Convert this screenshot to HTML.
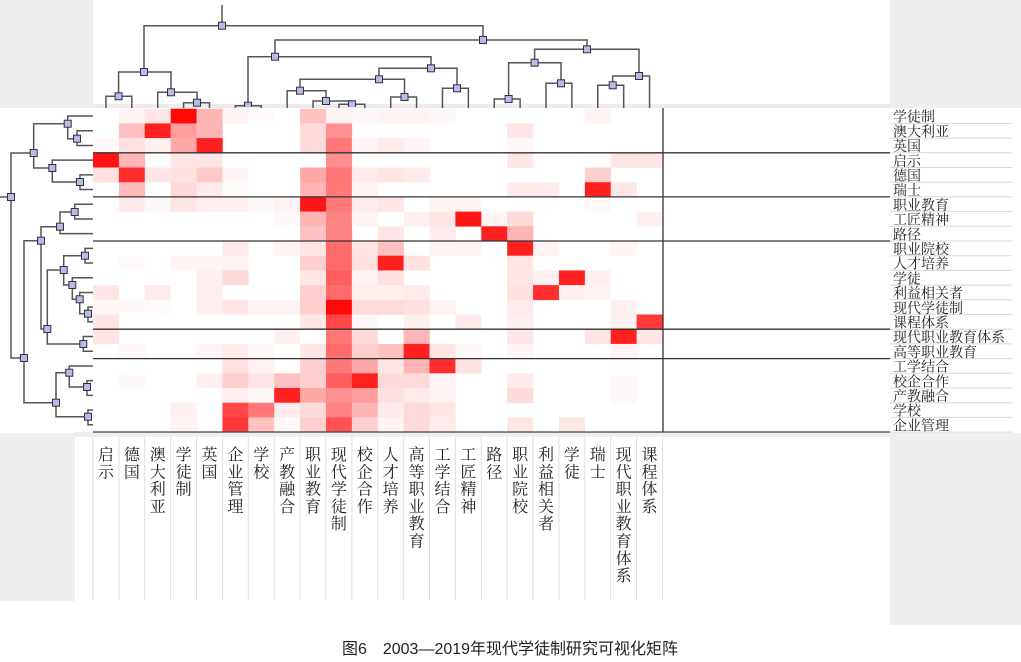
<!DOCTYPE html>
<html><head><meta charset="utf-8">
<style>
body{margin:0;width:1021px;height:662px;overflow:hidden;background:#fff;font-family:"Liberation Serif","Noto Serif CJK SC",serif;}
svg{position:absolute;left:0;top:0}
</style></head>
<body>
<svg id="chart" width="1021" height="662" xmlns="http://www.w3.org/2000/svg"></svg>
<script>
const colLabels=["启示","德国","澳大利亚","学徒制","英国","企业管理","学校","产教融合","职业教育","现代学徒制","校企合作","人才培养","高等职业教育","工学结合","工匠精神","路径","职业院校","利益相关者","学徒","瑞士","现代职业教育体系","课程体系"];
const rowLabels=["学徒制","澳大利亚","英国","启示","德国","瑞士","职业教育","工匠精神","路径","职业院校","人才培养","学徒","利益相关者","现代学徒制","课程体系","现代职业教育体系","高等职业教育","工学结合","校企合作","产教融合","学校","企业管理"];
// sparse cell intensities per row: [col, value]
const row0=[[1,.05],[2,.1],[3,1],[4,.3],[5,.05],[6,.02],[8,.25],[9,.05],[10,.03],[11,.05],[12,.05],[13,.03],[19,.05]];
const row1=[[1,.25],[2,.9],[3,.4],[4,.3],[8,.15],[9,.45],[16,.1]];
const row2=[[0,.03],[1,.12],[2,.06],[3,.35],[4,.9],[8,.15],[9,.55],[10,.05],[11,.08],[12,.05],[16,.03]];
const row3=[[0,.95],[1,.3],[3,.1],[4,.1],[9,.45],[16,.1],[20,.1],[21,.1]];
const row4=[[0,.12],[1,.85],[2,.1],[3,.12],[4,.22],[5,.04],[8,.35],[9,.55],[10,.08],[11,.1],[12,.08],[19,.2]];
const row5=[[1,.28],[3,.15],[4,.08],[5,.02],[8,.3],[9,.55],[10,.05],[16,.08],[17,.08],[19,.9],[20,.1]];
const row6=[[1,.08],[2,.03],[3,.1],[4,.06],[5,.06],[6,.03],[7,.05],[8,.95],[9,.55],[10,.08],[11,.1],[13,.05],[14,.05],[19,.03]];
const row7=[[7,.03],[8,.3],[9,.5],[10,.05],[12,.06],[13,.1],[14,.95],[15,.05],[16,.15],[21,.06]];
const row8=[[8,.25],[9,.5],[11,.1],[13,.08],[15,.9],[16,.3]];
const row9=[[5,.08],[7,.05],[8,.1],[9,.6],[10,.1],[11,.25],[13,.05],[14,.05],[16,.9],[17,.05],[20,.04]];
const row10=[[1,.02],[3,.04],[4,.04],[5,.05],[8,.2],[9,.6],[10,.12],[11,.9],[12,.12],[16,.1]];
const row11=[[4,.06],[5,.15],[8,.1],[9,.65],[10,.05],[11,.12],[16,.1],[17,.06],[18,.9],[19,.06]];
const row12=[[0,.1],[2,.08],[4,.06],[8,.2],[9,.6],[10,.06],[11,.06],[12,.08],[16,.12],[17,.85],[18,.06],[19,.04]];
const row13=[[0,.03],[1,.03],[2,.02],[4,.06],[5,.1],[6,.05],[7,.05],[8,.2],[9,1],[10,.15],[11,.15],[12,.12],[13,.05],[16,.08],[20,.06]];
const row14=[[0,.1],[8,.1],[9,.75],[10,.03],[12,.06],[14,.08],[16,.06],[20,.06],[21,.8]];
const row15=[[0,.1],[7,.06],[9,.55],[10,.15],[12,.3],[16,.1],[19,.1],[20,.9],[21,.1]];
const row16=[[1,.03],[4,.05],[5,.08],[6,.03],[8,.1],[9,.6],[10,.2],[11,.25],[12,.9],[13,.1],[14,.03],[16,.04],[20,.05]];
const row17=[[5,.12],[6,.05],[8,.2],[9,.55],[10,.35],[11,.1],[12,.3],[13,.85],[14,.12]];
const row18=[[1,.03],[4,.06],[5,.2],[6,.1],[7,.25],[8,.2],[9,.65],[10,.9],[11,.15],[12,.15],[13,.05],[16,.08],[20,.03]];
const row19=[[5,.06],[6,.03],[7,.9],[8,.35],[9,.45],[10,.4],[11,.12],[12,.08],[13,.05],[16,.15],[20,.03]];
const row20=[[3,.06],[5,.75],[6,.55],[7,.08],[8,.15],[9,.5],[10,.3],[11,.08],[12,.15],[13,.1]];
const row21=[[3,.04],[5,.8],[6,.25],[7,.03],[8,.2],[9,.7],[10,.2],[11,.05],[12,.15],[13,.08],[16,.1],[18,.1]];
const rows=[row0,row1,row2,row3,row4,row5,row6,row7,row8,row9,row10,row11,row12,row13,row14,row15,row16,row17,row18,row19,row20,row21];
const separators=[3,6,9,15,17];
// dendrogram trees: [nodePosition, mergeHeight, left, right], leaves are indices
const topTree=[222,25.7,[144,72,[118.6,96.3,0,1],[171,92.3,2,[197,102.7,3,4]]],[483,40,[275,56.7,[248,105.7,5,6],[431,68.3,[379,79.3,[300,90.7,7,[326,101,8,[352,104.3,9,10]]],[404.5,97,11,12]],[457,88.3,13,14]]],[587,49.3,[534.6,62.7,[508.6,99,15,16],[561,83.3,17,18]],[639,76,[612.7,85.3,19,20],21]]]];
const leftTree=[197,11,[153,33.7,[123.7,67.7,0,[138.7,77,1,2]],[168,52.3,3,[182,80,4,5]]],[358,24,[240.7,41,[226.7,60,[212,74.7,6,7],8],[329,47.3,[270,63.7,[255.7,85,9,10],[285,72.3,11,[299.3,79.7,12,[313.7,88,13,14]]]],[344,83.3,15,16]]],[402.7,56,[372.7,69.3,17,[387,87,18,19]],[416.7,88,20,21]]]];

const NS="http://www.w3.org/2000/svg";
const svg=document.getElementById('chart');
const X0=93,Y0=108.7,CW=(662.5-93)/22,RH=14.7;
const xCol=c=>X0+c*CW, yRow=r=>Y0+r*RH;
function mk(tag,attrs,parent){const e=document.createElementNS(NS,tag);for(const k in attrs)e.setAttribute(k,attrs[k]);(parent||svg).appendChild(e);return e;}
function color(v){const g=Math.round(255*(1-v*0.97));return `rgb(255,${g},${g})`;}

let p;
p=mk('rect',{x:0,y:0,width:93,height:108,fill:'#efefef'});


p=mk('rect',{x:890,y:0,width:131,height:108,fill:'#efefef'});


p=mk('rect',{x:890,y:433,width:131,height:192,fill:'#efefef'});


p=mk('rect',{x:0,y:433,width:75,height:168,fill:'#efefef'});


p=mk('rect',{x:93,y:104,width:797,height:4,fill:'#ececec'});


p=mk('rect',{x:75,y:432,width:815,height:5,fill:'#eeeeee'});



const gCells=mk('g',{});


rows.forEach((cells,r)=>{cells.forEach(([c,v])=>{
  const e=mk('rect',{x:xCol(c),y:yRow(r),width:CW+0.3,height:RH+0.3,fill:color(v)},gCells);
  
  
});});

separators.forEach(s=>{
  const e=mk('line',{x1:X0,x2:890,y1:yRow(s),y2:yRow(s),stroke:'#333','stroke-width':1.3});
  
  
});
p=mk('line',{x1:663,x2:663,y1:108,y2:432,stroke:'#333','stroke-width':1.3});


p=mk('line',{x1:93,x2:890,y1:432,y2:432,stroke:'#444','stroke-width':1.3});



rowLabels.forEach((t,r)=>{
  const l=mk('line',{x1:890,x2:1012,y1:yRow(r+1),y2:yRow(r+1),stroke:'#d8d8d8','stroke-width':1});
  
  
  const e=mk('text',{x:893,y:yRow(r)+13,'font-size':14,fill:'#222'});
  e.textContent=t;
  
  
});

colLabels.forEach((t,c)=>{
  const l=mk('line',{x1:xCol(c),x2:xCol(c),y1:437,y2:600,stroke:'#dddddd','stroke-width':1});
  
  
  const e=mk('text',{x:xCol(c)+CW/2,y:460,'font-size':16,fill:'#222','text-anchor':'middle'});
  
  
  [...t].forEach((ch,i)=>{const s=mk('tspan',{x:xCol(c)+CW/2,y:460+i*17.3},e);s.textContent=ch;});
});
p=mk('line',{x1:xCol(22),x2:xCol(22),y1:437,y2:600,stroke:'#dddddd','stroke-width':1});



// dendrograms
function pos(n,leafPos){return typeof n==='number'?leafPos(n):n[0];}
const nodes=[];
function drawTop(n,g){
  if(typeof n==='number')return;
  const h=n[1];
  [n[2],n[3]].forEach(ch=>{
    const cx=pos(ch,c=>xCol(c)+CW/2);
    const ey=typeof ch==='number'?108:ch[1];
    mk('polyline',{points:`${n[0]},${h} ${cx},${h} ${cx},${Math.min(ey,108)}`,fill:'none',stroke:'#555','stroke-width':1.5},g);
    drawTop(ch,g);
  });
  nodes.push([n[0]-3.5,h-3.5,'top']);
}
function drawLeft(n,g){
  if(typeof n==='number')return;
  const h=n[1];
  [n[2],n[3]].forEach(ch=>{
    const cy=pos(ch,r=>yRow(r)+RH/2);
    const ex=typeof ch==='number'?93:ch[1];
    mk('polyline',{points:`${h},${n[0]} ${h},${cy} ${ex},${cy}`,fill:'none',stroke:'#555','stroke-width':1.5},g);
    drawLeft(ch,g);
  });
  nodes.push([h-3.5,n[0]-3.5,'left']);
}
const gTop=mk('g',{});


mk('line',{x1:topTree[0],x2:topTree[0],y1:5,y2:topTree[1],stroke:'#555','stroke-width':1.5},gTop);
drawTop(topTree,gTop);
const gLeft=mk('g',{});


mk('line',{x1:0,x2:leftTree[1],y1:leftTree[0],y2:leftTree[0],stroke:'#555','stroke-width':1.5},gLeft);
drawLeft(leftTree,gLeft);
mk('clipPath',{id:'topclip'});
const cp=document.createElementNS(NS,'clipPath');cp.setAttribute('id','tc');
const cr=mk('rect',{x:0,y:0,width:1021,height:107},cp);svg.appendChild(cp);
const cp2=document.createElementNS(NS,'clipPath');cp2.setAttribute('id','lc');
mk('rect',{x:0,y:0,width:92,height:662},cp2);svg.appendChild(cp2);
nodes.forEach(([x,y,w])=>{
  const e=mk('rect',{x:x,y:y,width:7,height:7,fill:'#b9b9ee',stroke:'#333','stroke-width':1,'clip-path':w==='top'?'url(#tc)':'url(#lc)'});
  
  
});

const cap=mk('text',{x:510,y:654,'font-size':16,fill:'#222','text-anchor':'middle','font-family':'"Liberation Sans","Noto Sans CJK SC",sans-serif'});
cap.textContent='图6　2003—2019年现代学徒制研究可视化矩阵';


</script>
</body></html>
